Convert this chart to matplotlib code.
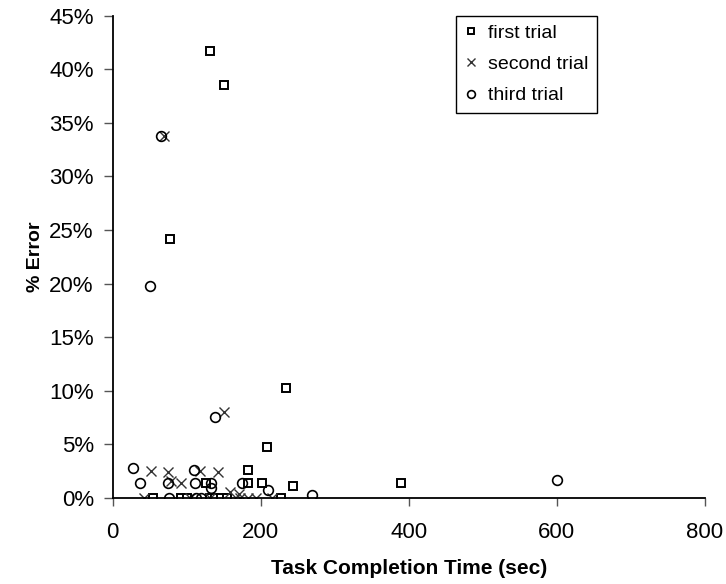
import numpy as np
import matplotlib.pyplot as plt
from matplotlib.ticker import PercentFormatter

plt.rcParams['font.family'] = ['Liberation Sans', 'DejaVu Sans']

# first trial (squares)
t1 = [132, 150, 78, 234, 208, 183, 126, 183, 202, 244, 390,
      55, 93, 100, 131, 138, 147, 154, 228]
e1 = [41.7, 38.5, 24.2, 10.3, 4.8, 2.6, 1.4, 1.4, 1.4, 1.1, 1.4,
      0, 0, 0, 0, 0, 0, 0, 0]

# second trial (crosses)
t2 = [69, 151, 52, 75, 118, 143, 79, 93, 158, 171,
      42, 104, 131, 172, 183, 194, 215]
e2 = [33.8, 8.0, 2.55, 2.45, 2.55, 2.45, 1.6, 1.4, 0.6, 0.35,
      0, 0, 0, 0, 0, 0, 0]

# third trial (circles)
t3 = [66, 50, 139, 27, 110, 37, 75, 111, 133, 133, 175, 210, 269, 600,
      76, 113, 120]
e3 = [33.8, 19.8, 7.6, 2.75, 2.6, 1.4, 1.4, 1.4, 1.4, 0.9, 1.4, 0.7, 0.3, 1.65,
      0, 0, 0]

fig = plt.figure(figsize=(7.26, 5.84), dpi=100)
ax = fig.add_axes([0.155, 0.1473, 0.816, 0.826])

ax.plot(t1, e1, 's', ms=6.2, mfc='white', mec='black', mew=1.4, label='first trial')
ax.plot(t2, e2, 'x', ms=7.5, mec='#333333', mew=1.0, label='second trial')
ax.plot(t3, e3, 'o', ms=7, mfc='none', mec='black', mew=1.2, label='third trial')

ax.set_xlim(0, 800)
ax.set_ylim(0, 45)
ax.set_xticks([0, 200, 400, 600, 800])
ax.set_yticks(np.arange(0, 46, 5))
ax.yaxis.set_major_formatter(PercentFormatter(decimals=0))

for s in ['top', 'right']:
    ax.spines[s].set_visible(False)
ax.spines['left'].set_linewidth(1.3)
ax.spines['bottom'].set_linewidth(1.3)
ax.tick_params(axis='both', labelsize=16, width=1, color='#555555')
ax.tick_params(axis='y', length=6.5, pad=7)
ax.tick_params(axis='x', length=6, pad=11)

ax.set_xlabel('Task Completion Time (sec)', fontsize=15, fontweight='bold', labelpad=12)
ax.set_ylabel('% Error', fontsize=14, fontweight='bold', labelpad=3.5)

leg = ax.legend(loc='upper right', bbox_to_anchor=(0.818, 1.0), borderaxespad=0,
                fontsize=14, markerscale=0.8, handlelength=0.7, handletextpad=0.5,
                fancybox=False, edgecolor='black', framealpha=1, borderpad=0.45,
                labelspacing=0.7)
leg.get_frame().set_linewidth(1.0)

plt.savefig('out.png')
